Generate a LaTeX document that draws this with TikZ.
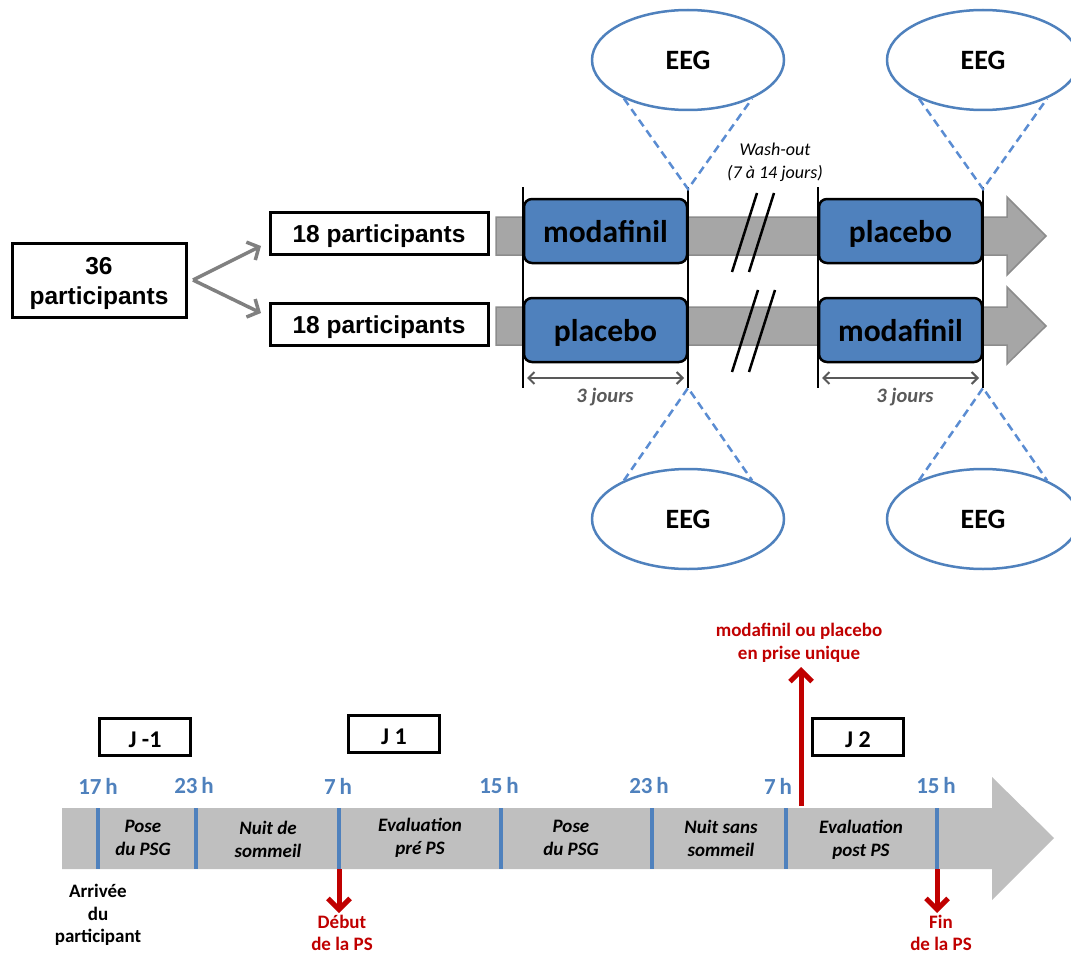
\documentclass[tikz,border=0pt]{standalone}
\usepackage{fontspec}
\setmainfont{Carlito}
\newfontfamily\arialf{Liberation Sans}
\usetikzlibrary{arrows.meta,shapes.geometric}
\definecolor{eegblue}{HTML}{4F81BD}
\definecolor{dashblue}{HTML}{5A8CD2}
\definecolor{armgray}{HTML}{A6A6A6}
\definecolor{armedge}{HTML}{8C8C8C}
\definecolor{tlgray}{HTML}{BFBFBF}
\definecolor{darkred}{HTML}{C00000}
\definecolor{txtgray}{HTML}{595959}
\definecolor{congray}{HTML}{808080}
\begin{document}
\begin{tikzpicture}[x=1pt,y=-1pt,
  pbox/.style={draw=black, line width=3pt, fill=white, align=center, inner sep=0pt,
    font=\arialf\bfseries\fontsize{24.5}{30}\selectfont},
  drug/.style={draw=black, line width=2.5pt, fill=eegblue, rounded corners=8pt,
    minimum width=163pt, minimum height=64pt, inner sep=0pt, text height=24pt, text depth=2pt,
    font=\bfseries\fontsize{31.5}{36}\selectfont},
  eeg/.style={ellipse, draw=eegblue, line width=2.5pt, fill=white, minimum width=192pt,
    minimum height=100pt, inner sep=0pt, font=\bfseries\fontsize{28}{30}\selectfont},
  eegdash/.style={draw=dashblue, line width=2.5pt, dash pattern=on 8pt off 5pt},
  arm/.style={fill=armgray, draw=armedge, line width=1.5pt},
  vline/.style={draw=black, line width=2pt},
  slash/.style={draw=black, line width=2.5pt},
  dur/.style={draw=txtgray, line width=2pt, {Straight Barb[length=6pt,width=12pt]}-{Straight Barb[length=6pt,width=12pt]}},
  durtxt/.style={text=txtgray, font=\bfseries\itshape\fontsize{20.5}{24}\selectfont},
  fork/.style={draw=congray, line width=3.5pt, -{Straight Barb[length=9pt,width=20pt]}},
  hour/.style={text=eegblue, font=\bfseries\fontsize{23}{26}\selectfont},
  seg/.style={align=center, font=\bfseries\itshape\fontsize{19}{23}\selectfont},
  dayb/.style={draw=black, line width=3pt, minimum width=91pt, minimum height=37pt,
    inner sep=0pt, text height=20pt, text depth=0pt, font=\bfseries\fontsize{24}{26}\selectfont},
  divider/.style={draw=eegblue, line width=4pt},
  redarr/.style={draw=darkred, line width=5pt, -{Straight Barb[length=11pt,width=22pt]}},
  redtxt/.style={text=darkred, align=center, font=\bfseries\fontsize{19}{22.5}\selectfont},
  blacktxt/.style={align=center, font=\bfseries\fontsize{19}{22.5}\selectfont}
]
\useasboundingbox (0,0) rectangle (1071,955);
\clip (0,0) rectangle (1071,955);

% ---------- upper part ----------
\node[pbox, minimum width=174pt, minimum height=74pt, text height=48pt, text depth=0pt] (p36) at (99,280) {36\\participants};
\node[pbox, minimum width=218pt, minimum height=42pt, text height=18pt, text depth=0pt] (p18a) at (379,233) {18 participants};
\node[pbox, minimum width=218pt, minimum height=42pt, text height=18pt, text depth=0pt] (p18b) at (379,324) {18 participants};

\coordinate (forkpt) at (193,280);
\coordinate (tipa) at (261,246);
\coordinate (tipb) at (261,313);
\draw[fork] (forkpt) -- (tipa);
\draw[fork] (forkpt) -- (tipb);

% gray arms
\path[arm] (496,217) -- (1007,217) -- (1007,197) -- (1046,236) -- (1007,275) -- (1007,255) -- (496,255) -- cycle;
\path[arm] (496,307) -- (1007,307) -- (1007,287) -- (1046,326) -- (1007,364) -- (1007,345) -- (496,345) -- cycle;

% vertical period lines
\coordinate (l1t) at (523,187); \coordinate (l1b) at (523,388);
\coordinate (l2t) at (688,187); \coordinate (l2b) at (688,388);
\coordinate (l3t) at (818,187); \coordinate (l3b) at (818,388);
\coordinate (l4t) at (983,187); \coordinate (l4b) at (983,388);
\draw[vline] (l1t) -- (l1b);
\draw[vline] (l2t) -- (l2b);
\draw[vline] (l3t) -- (l3b);
\draw[vline] (l4t) -- (l4b);

% drug boxes
\node[drug] (moda) at (605.5,231) {modafinil};
\node[drug] (plaa) at (900.5,231) {placebo};
\node[drug] (plab) at (605.5,330) {placebo};
\node[drug] (modb) at (900.5,330) {modafinil};

% wash-out slashes
\draw[slash] (732,272) -- (757,193);
\draw[slash] (749,272) -- (774,193);
\draw[slash] (732,372) -- (758,290);
\draw[slash] (749,372) -- (775,290);
\node[align=center, font=\itshape\fontsize{18}{23}\selectfont] (wash) at (775,162) {Wash-out\\(7 à 14 jours)};

% durations
\coordinate (d1a) at (527,378); \coordinate (d1b) at (684,378);
\coordinate (d2a) at (822,378); \coordinate (d2b) at (979,378);
\draw[dur] (d1a) -- (d1b);
\draw[dur] (d2a) -- (d2b);
\node[durtxt] (j3a) at (605,397) {3 jours};
\node[durtxt] (j3b) at (905,397) {3 jours};

% EEG ellipses
\node[eeg] (eeg1) at (688,60) {EEG};
\node[eeg] (eeg2) at (983,60) {EEG};
\node[eeg] (eeg3) at (688,519) {EEG};
\node[eeg] (eeg4) at (983,519) {EEG};
\coordinate (e1) at (688,189);
\coordinate (e2) at (983,189);
\coordinate (e3) at (688,388);
\coordinate (e4) at (983,388);
\draw[eegdash] (eeg1.211) -- (e1) -- (eeg1.329);
\draw[eegdash] (eeg2.211) -- (e2) -- (eeg2.329);
\draw[eegdash] (eeg3.149) -- (e3) -- (eeg3.31);
\draw[eegdash] (eeg4.149) -- (e4) -- (eeg4.31);

% ---------- timeline ----------
\path[fill=tlgray] (62,808) -- (992,808) -- (992,777) -- (1054,838) -- (992,900) -- (992,869) -- (62,869) -- cycle;

\foreach \xx/\nm in {98/a,196/b,339/c,501/d,652/e,786/f,937/g}{
  \coordinate (t\nm) at (\xx,808);
  \coordinate (b\nm) at (\xx,869);
  \draw[divider] (t\nm) -- (b\nm);
}

\node[hour] (h1) at (98,786) {17\,h};
\node[hour] (h2) at (194,786) {23\,h};
\node[hour] (h3) at (338,786) {7\,h};
\node[hour] (h4) at (499,786) {15\,h};
\node[hour] (h5) at (649,786) {23\,h};
\node[hour] (h6) at (778,786) {7\,h};
\node[hour] (h7) at (936,786) {15\,h};

\node[seg] (s1) at (143,838) {Pose\\du PSG};
\node[seg] (s2) at (268,839) {Nuit de\\sommeil};
\node[seg] (s3) at (420,838) {Evaluation\\pré PS};
\node[seg] (s4) at (571,838) {Pose\\du PSG};
\node[seg] (s5) at (721,838) {Nuit sans\\sommeil};
\node[seg] (s6) at (861,840) {Evaluation\\post PS};

\node[dayb] (dm1) at (145,737) {J -1};
\node[dayb] (d1) at (394,734) {J 1};
\node[dayb] (d2) at (858,737) {J 2};

% red markers
\coordinate (up0) at (801,806);
\coordinate (up1) at (801,667);
\draw[redarr] (up0) -- (up1);
\node[redtxt] (dose) at (799,643) {modafinil ou placebo\\en prise unique};

\coordinate (dn1a) at (339,869); \coordinate (dn1b) at (339,913);
\coordinate (dn2a) at (937,869); \coordinate (dn2b) at (937,913);
\draw[redarr] (dn1a) -- (dn1b);
\draw[redarr] (dn2a) -- (dn2b);
\node[redtxt] (debut) at (342,933) {Début\\de la PS};
\node[redtxt] (fin) at (941,933) {Fin\\de la PS};

\node[blacktxt] (arr) at (98,915) {Arrivée\\du\\participant};
\end{tikzpicture}
\end{document}
